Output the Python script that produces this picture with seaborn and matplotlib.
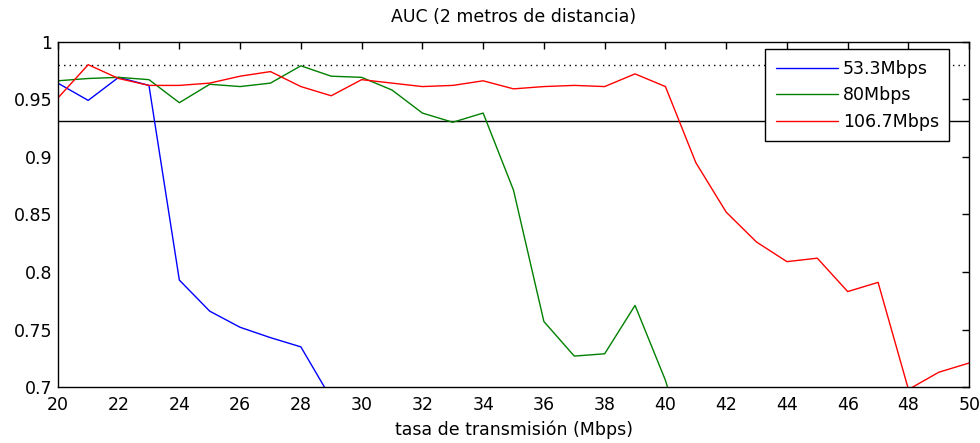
import matplotlib
matplotlib.use("Agg")
import matplotlib.pyplot as plt
import matplotlib.ticker as mticker
import seaborn as sns
import pandas as pd

# tasa de transmision (Mbps)
x_blue = [20, 21, 22, 23, 24, 25, 26, 27, 28, 29]
auc_53 = [0.964, 0.949, 0.969, 0.962, 0.793, 0.766, 0.752, 0.743, 0.735, 0.690]

x_green = list(range(20, 42))
auc_80 = [0.966, 0.968, 0.969, 0.967, 0.947, 0.963, 0.961, 0.964, 0.979, 0.970,
          0.969, 0.958, 0.938, 0.930, 0.938, 0.871, 0.757, 0.727, 0.729, 0.771,
          0.706, 0.620]

x_red = list(range(20, 51))
auc_107 = [0.951, 0.980, 0.968, 0.962, 0.962, 0.964, 0.970, 0.974, 0.961, 0.953,
           0.967, 0.964, 0.961, 0.962, 0.966, 0.959, 0.961, 0.962, 0.961, 0.972,
           0.961, 0.895, 0.852, 0.826, 0.809, 0.812, 0.783, 0.791, 0.698, 0.713,
           0.721]

labels = ["53.3Mbps", "80Mbps", "106.7Mbps"]
colors = ["#0000ff", "#008000", "#ff0000"]
ref_dotted = 0.98
ref_solid = 0.931

df = pd.concat([
    pd.DataFrame({"x": x_blue, "auc": auc_53, "serie": labels[0]}),
    pd.DataFrame({"x": x_green, "auc": auc_80, "serie": labels[1]}),
    pd.DataFrame({"x": x_red, "auc": auc_107, "serie": labels[2]}),
])

sns.set_style("white")
plt.rcParams["font.family"] = ["DejaVu Sans"]
plt.rcParams["text.color"] = "black"
plt.rcParams["axes.labelcolor"] = "black"

fs = 12.5

fig = plt.figure(figsize=(9.8, 4.43), dpi=100)
ax = fig.add_axes([0.059, 0.126, 0.930, 0.780])

ax.axhline(ref_dotted, color="black", linestyle=(0, (1, 3)), linewidth=1)
ax.axhline(ref_solid, color="black", linestyle="-", linewidth=1)

sns.lineplot(data=df, x="x", y="auc", hue="serie", hue_order=labels,
             palette=colors, estimator=None, linewidth=1, ax=ax)

ax.set_xlim(20, 50)
ax.set_ylim(0.7, 1.0)
ax.set_xticks(range(20, 51, 2))
ax.set_yticks([0.7, 0.75, 0.8, 0.85, 0.9, 0.95, 1.0])
ax.yaxis.set_major_formatter(mticker.FuncFormatter(lambda v, p: "%g" % round(v, 2)))
ax.tick_params(direction="in", length=5, width=1, top=True, right=True,
               labelsize=fs, colors="black")
ax.tick_params(axis="x", pad=6)
ax.tick_params(axis="y", pad=4)
for s in ax.spines.values():
    s.set_color("black")
    s.set_linewidth(1)

ax.set_title("AUC (2 metros de distancia)", fontsize=fs, pad=14)
ax.set_xlabel("tasa de transmisión (Mbps)", fontsize=fs, labelpad=5)
ax.set_ylabel("")

leg = ax.legend(loc="upper right", bbox_to_anchor=(0.978, 0.978), borderaxespad=0,
                fontsize=fs, handlelength=3.6, handletextpad=0.25,
                labelspacing=0.5, borderpad=0.6, fancybox=False, framealpha=1)
leg.get_frame().set_edgecolor("black")
leg.get_frame().set_linewidth(1)

fig.savefig("out.png", dpi=100, facecolor="white")
